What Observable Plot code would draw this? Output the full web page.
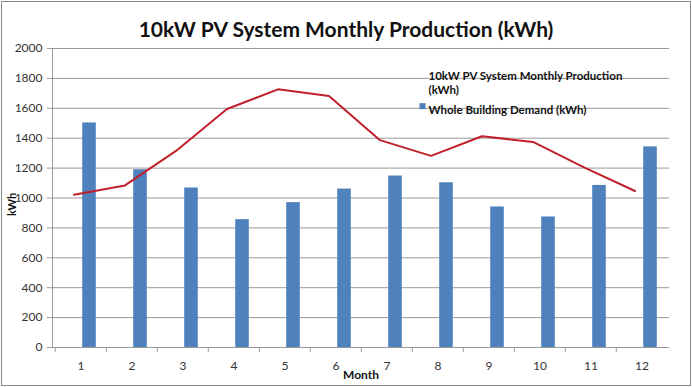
<!DOCTYPE html>
<html>
<head>
<meta charset="utf-8">
<script src="https://cdn.jsdelivr.net/npm/d3@7"></script>
<script src="https://cdn.jsdelivr.net/npm/@observablehq/plot@0.6"></script>
<style>
  html, body { margin: 0; padding: 0; background: #fff; }
  svg { display: block; outline: 1px solid #8a8a8a; outline-offset: -2px; }
</style>
</head>
<body>
<div id="chart"></div>
<script>
const titleText = "10kW PV System Monthly Production (kWh)";
const months = [1, 2, 3, 4, 5, 6, 7, 8, 9, 10, 11, 12];
const demand = [1502, 1189, 1067, 855, 969, 1060, 1147, 1102, 940, 873, 1084, 1342];
const production = [1022, 1084, 1315, 1595, 1727, 1682, 1387, 1282, 1413, 1375, 1205, 1047];
const yTicks = [0, 200, 400, 600, 800, 1000, 1200, 1400, 1600, 1800, 2000];
const productionLabel = ["10kW PV System Monthly Production", "(kWh)"];
const demandLabel = "Whole Building Demand (kWh)";
const xLabel = "Month";
const yLabel = "kWh";

const W = 692, H = 387, ML = 52, MR = 23, MT = 48, MB = 40;
const bw = (W - ML - MR) / months.length;
const barColor = "#4f81bd";
const lineColor = "#c0202a";
const gridColor = "#9a9a9a";
const legendFont = 11.5;

const chart = Plot.plot({
  width: W,
  height: H,
  marginLeft: ML,
  marginRight: MR,
  marginTop: MT,
  marginBottom: MB,
  style: { fontFamily: "Lato, 'Open Sans', sans-serif", fontSize: "12px", color: "#333", background: "#fff" },
  x: { type: "band", domain: months, padding: 0, label: null },
  y: { domain: [0, 2000], label: null },
  marks: [
    Plot.gridY(yTicks, { stroke: gridColor, strokeOpacity: 1 }),
    Plot.frame({ anchor: "left", stroke: gridColor }),
    Plot.axisY(yTicks, { tickSize: 5, tickPadding: 5, stroke: gridColor, label: null, fill: "#333", tickFormat: d3.format("d") }),
    Plot.axisX(months, { tickSize: 0, tickPadding: 14, label: null, fill: "#333" }),
    Plot.axisX(months, { tickSize: 5, dx: -bw / 2, tickFormat: () => "", label: null, stroke: gridColor }),
    Plot.barY(demand, { x: (d, i) => months[i], y: d => d, fill: barColor, insetLeft: bw / 2 + 1.5, insetRight: bw / 2 - 15.5 }),
    Plot.lineY(production, { x: (d, i) => months[i], y: d => d, stroke: lineColor, strokeWidth: 2, dx: -7 }),
    Plot.ruleY([0], { stroke: gridColor }),
    Plot.text([titleText], { frameAnchor: "top", dx: -15, dy: -26, fontSize: 21, fontWeight: "bold", fill: "#111" }),
    Plot.text([yLabel], { frameAnchor: "left", rotate: -90, dx: -40, dy: 18, fontSize: 11, fontWeight: "bold", fill: "#111" }),
    Plot.text([xLabel], { frameAnchor: "bottom", dy: 31, fontSize: 12, fontWeight: "bold", fill: "#111" }),
    Plot.text([productionLabel[0]], { frameAnchor: "top-left", dx: 428 - ML, dy: 71.5 - MT, textAnchor: "start", fontSize: legendFont, fontWeight: "bold", fill: "#111" }),
    Plot.text([productionLabel[1]], { frameAnchor: "top-left", dx: 428 - ML, dy: 85 - MT, textAnchor: "start", fontSize: legendFont, fontWeight: "bold", fill: "#111" }),
    Plot.dot([demandLabel], { frameAnchor: "top-left", dx: 422 - ML, dy: 105.7 - MT, symbol: "square", r: 3.4, fill: barColor, stroke: null }),
    Plot.text([demandLabel], { frameAnchor: "top-left", dx: 428 - ML, dy: 105.7 - MT, textAnchor: "start", fontSize: legendFont, fontWeight: "bold", fill: "#111" })
  ]
});
document.getElementById("chart").append(chart);
</script>
</body>
</html>
